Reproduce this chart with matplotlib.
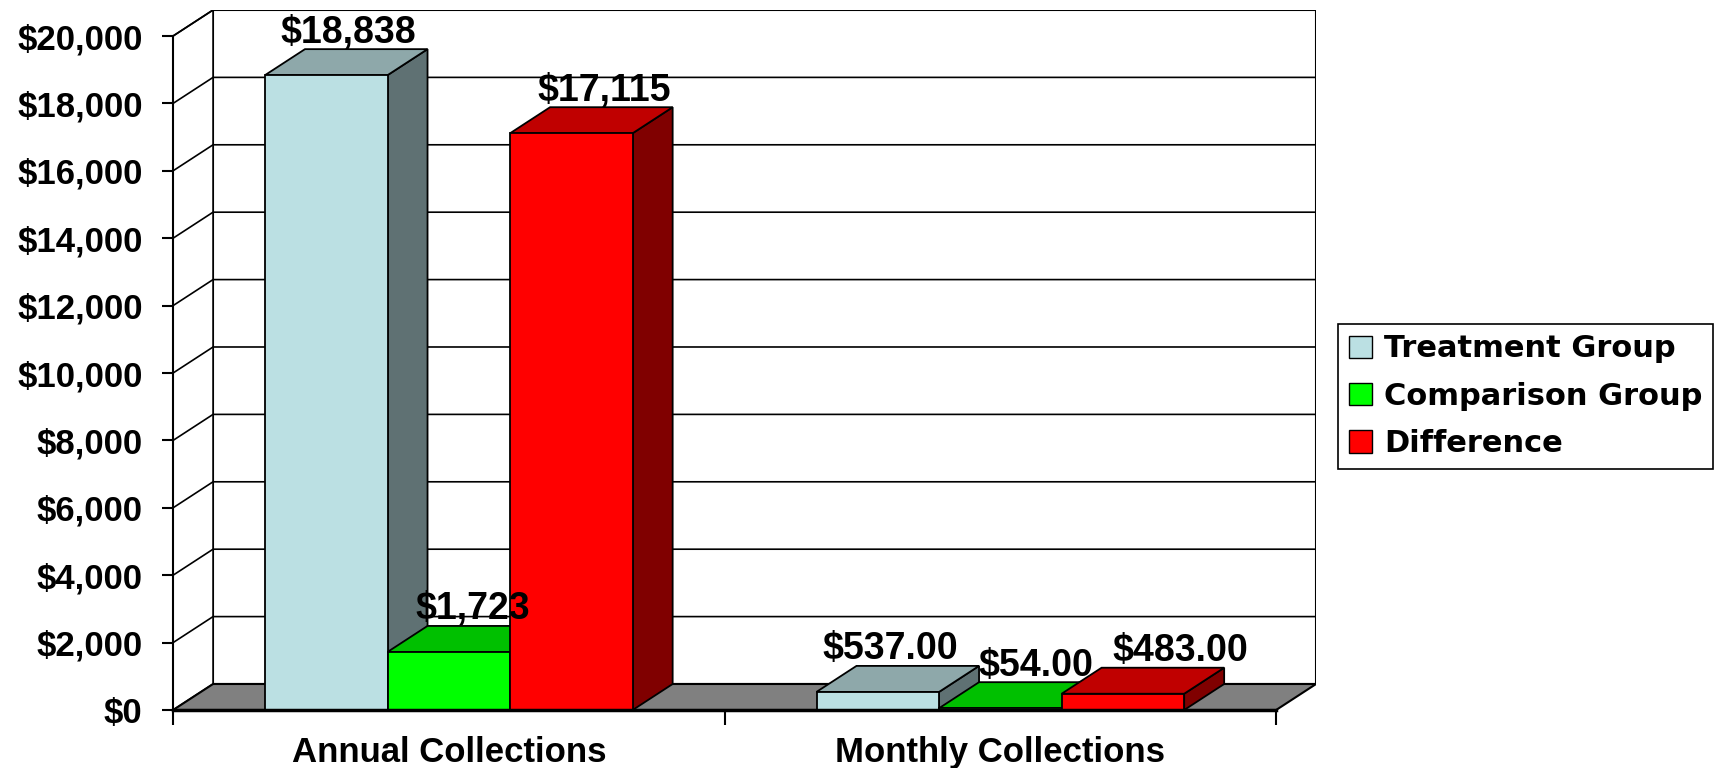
import matplotlib.pyplot as plt
from matplotlib.patches import Polygon, Rectangle, Patch
from matplotlib.ticker import FuncFormatter

categories = ['Annual Collections', 'Monthly Collections']
series = ['Treatment Group', 'Comparison Group', 'Difference']
treatment = [18838, 537]
comparison = [1723, 54]
difference = [17115, 483]
value_labels = [['$18,838', '$537.00'], ['$1,723', '$54.00'], ['$17,115', '$483.00']]
yticks = list(range(0, 20001, 2000))

front_colors = ['#bbe0e3', '#00ff00', '#ff0000']
top_colors = ['#8ea8aa', '#00c000', '#c00000']
side_colors = ['#5f7173', '#008000', '#800000']
# sideways nudge of each value label (points), per series / category
label_nudge = [[1.5, -5.5], [3, 11], [9.5, 27]]

plt.rcParams['font.family'] = ['Liberation Sans', 'DejaVu Sans']
plt.rcParams['font.weight'] = 'bold'

fig = plt.figure(figsize=(17.17, 7.68), dpi=100)
ax = fig.add_axes([0.1008, 0.0755, 0.6657, 0.9115])

# depth of the fake 3d box, in data units
dx = 0.0725
dy = 772
ymax = 20000
ax.set_xlim(0, 2 + dx)
ax.set_ylim(0, ymax + dy)

# back wall, left wall and floor
ax.add_patch(Rectangle((dx, dy), 2, ymax, facecolor='white', edgecolor='black', lw=1.5, zorder=1))
ax.add_patch(Polygon([(0, 0), (dx, dy), (dx, ymax + dy), (0, ymax)], closed=True,
                     facecolor='white', edgecolor='black', lw=1.2, zorder=1))
for t in yticks[1:]:
    ax.plot([0, dx, 2 + dx], [t, t + dy, t + dy], color='black', lw=1.2, zorder=1)
ax.add_patch(Polygon([(0, 0), (2, 0), (2 + dx, dy), (dx, dy)], closed=True,
                     facecolor='#808080', edgecolor='black', lw=1.5, zorder=2))

# bars: gap width 150%
w = 1 / 4.5
data = [treatment, comparison, difference]
for c in range(len(categories)):
    for s in range(len(series)):
        v = data[s][c]
        left = c + 0.75 * w + s * w
        side = [(left + w, 0), (left + w + dx, dy), (left + w + dx, v + dy), (left + w, v)]
        top = [(left, v), (left + w, v), (left + w + dx, v + dy), (left + dx, v + dy)]
        ax.add_patch(Polygon(side, closed=True, facecolor=side_colors[s], edgecolor='black', lw=1.3, zorder=3))
        ax.add_patch(Polygon(top, closed=True, facecolor=top_colors[s], edgecolor='black', lw=1.3, zorder=3))
        ax.add_patch(Rectangle((left, 0), w, v, facecolor=front_colors[s], edgecolor='black', lw=1.3, zorder=3))
        ax.annotate(value_labels[s][c], (left + w / 2 + dx / 2, v + dy), xytext=(label_nudge[s][c], -1),
                    textcoords='offset points', ha='center', va='bottom', fontsize=27, zorder=6)

for name in ['top', 'right']:
    ax.spines[name].set_visible(False)
ax.spines['left'].set_bounds(0, ymax)
ax.spines['left'].set_linewidth(1.5)
ax.spines['bottom'].set_bounds(0, 2)
ax.spines['bottom'].set_linewidth(2.5)
ax.spines['left'].set_zorder(5)
ax.spines['bottom'].set_zorder(5)

ax.set_yticks(yticks)
ax.yaxis.set_major_formatter(FuncFormatter(lambda v, p: '${:,.0f}'.format(v)))
ax.tick_params(axis='y', length=8, width=1.5, labelsize=25, pad=14)
ax.set_xticks([0, 1, 2])
ax.set_xticklabels(['', '', ''])
ax.tick_params(axis='x', which='major', length=11, width=1.5)
ax.set_xticks([0.5, 1.5], categories, minor=True)
ax.tick_params(axis='x', which='minor', length=0, labelsize=25, pad=19)

handles = [Patch(facecolor=front_colors[i], edgecolor='black', label=series[i]) for i in range(3)]
leg = fig.legend(handles=handles, loc='center left', bbox_to_anchor=(0.7793, 0.484),
                 prop={'family': 'DejaVu Sans', 'weight': 'bold', 'size': 22},
                 fancybox=False, edgecolor='black', framealpha=1,
                 handlelength=0.75, handleheight=0.75, handletextpad=0.4, labelspacing=0.6,
                 borderpad=0.35, borderaxespad=0)
leg.get_frame().set_linewidth(1.2)

fig.savefig('out.png', dpi=100)
